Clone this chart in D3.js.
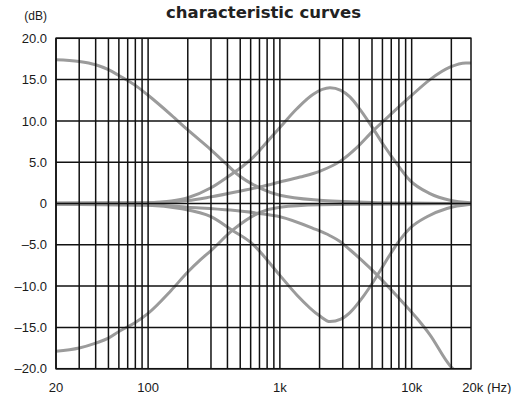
<!DOCTYPE html>
<html>
<head>
<meta charset="utf-8">
<script src="https://cdn.jsdelivr.net/npm/d3@7"></script>
<style>
  html, body { margin: 0; padding: 0; background: #fff; }
  svg { display: block; }
</style>
</head>
<body>
<svg id="chart" width="519" height="394"></svg>
<script>
// ---- data ----
const titleText = "characteristic curves";
const yUnitLabel = "(dB)";
const yTicks = [20, 15, 10, 5, 0, -5, -10, -15, -20];
const yTickLabels = ["20.0", "15.0", "10.0", "5.0", "0", "–5.0", "–10.0", "–15.0", "–20.0"];
const xTickValues = [20, 100, 1000, 10000];
const xTickLabels = ["20", "100", "1k", "10k"];
const xLastLabelValue = 20000;
const xLastLabel = "20k (Hz)";
const xGridValues = [20, 30, 40, 50, 60, 70, 80, 90,
  100, 200, 300, 400, 500, 600, 700, 800, 900,
  1000, 2000, 3000, 4000, 5000, 6000, 7000, 8000, 9000,
  10000, 20000];

// [frequency Hz, gain dB]
const lowShelfBoost = [[20,17.4],[30,17.2],[40,16.8],[50,16.2],[60,15.5],[80,14.3],[100,13.1],[150,10.7],[200,8.9],[300,6.5],[385,4.9],[470,3.6],[700,1.9],[1000,1.0],[2000,0.4],[3000,0.25],[5000,0.12],[10000,0.05],[28200,0]];
const lowShelfCut = [[20,-17.9],[30,-17.5],[40,-16.9],[50,-16.3],[60,-15.5],[80,-14.4],[100,-13.3],[150,-10.5],[200,-8.3],[250,-6.8],[300,-5.7],[440,-3.2],[700,-1.1],[1000,-0.45],[2000,-0.15],[5000,-0.08],[28200,0]];
const peakBoost = [[20,0.05],[100,0.1],[150,0.3],[200,0.7],[300,1.9],[400,3.2],[500,4.3],[600,5.3],[745,6.9],[1000,9.2],[1350,11.5],[1780,13.2],[2400,14.0],[2900,13.7],[3400,12.9],[4050,11.4],[5085,9.1],[6055,7.2],[7730,4.8],[9700,2.8],[13770,1.2],[19500,0.4],[28200,0.1]];
const peakCut = [[20,-0.1],[100,-0.2],[175,-0.6],[300,-1.6],[440,-3.3],[600,-4.7],[1000,-8.7],[1350,-11.1],[2000,-13.6],[2400,-14.3],[2900,-14.0],[3400,-13.2],[4270,-11.3],[5100,-9.5],[5740,-8.2],[6840,-6.2],[8150,-4.4],[9700,-3.0],[13060,-1.6],[18500,-0.6],[28200,-0.1]];
const highShelfBoost = [[20,0.02],[100,0.1],[200,0.35],[300,0.8],[500,1.5],[700,2.0],[1000,2.6],[1420,3.2],[2000,3.9],[2860,5.1],[3850,6.8],[5090,8.8],[6840,10.7],[9700,12.9],[13770,15.0],[19500,16.5],[25800,17.0],[28200,17.0]];
const highShelfCut = [[20,-0.1],[100,-0.15],[200,-0.45],[420,-0.8],[700,-1.2],[1000,-1.6],[1780,-3.0],[2400,-3.9],[2860,-4.6],[3400,-5.6],[4820,-7.8],[5740,-9.0],[7730,-11.2],[10960,-13.9],[13770,-15.9],[19500,-19.6],[20600,-20.0]];
const series = [lowShelfBoost, lowShelfCut, peakBoost, peakCut, highShelfBoost, highShelfCut];

// ---- layout ----
const svg = d3.select("#chart");
const plotL = 56, plotR = 471, plotT = 38.3, plotB = 368.7;

const x = d3.scaleLog().domain([20, 28200]).range([plotL, plotR]);
const y = d3.scaleLinear().domain([-20, 20]).range([plotB, plotT]);

svg.append("defs").append("clipPath").attr("id", "plot")
  .append("rect").attr("x", plotL).attr("y", plotT).attr("width", plotR - plotL).attr("height", plotB - plotT);

// curves (under grid)
const line = d3.line()
  .x(d => x(d[0]))
  .y(d => y(d[1]))
  .curve(d3.curveMonotoneX);

svg.append("g").attr("clip-path", "url(#plot)")
  .selectAll("path").data(series).join("path")
  .attr("d", line)
  .attr("fill", "none")
  .attr("stroke", "#9b9b9b")
  .attr("stroke-width", 3)
  .attr("stroke-linecap", "round");

// grid
const grid = svg.append("g").attr("stroke", "#111").attr("stroke-width", 1.5);
grid.selectAll("line.v").data(xGridValues).join("line")
  .attr("class", "v")
  .attr("x1", d => x(d)).attr("x2", d => x(d))
  .attr("y1", plotT).attr("y2", plotB);
grid.selectAll("line.h").data(yTicks).join("line")
  .attr("class", "h")
  .attr("x1", plotL).attr("x2", plotR)
  .attr("y1", d => y(d)).attr("y2", d => y(d));
grid.append("rect")
  .attr("x", plotL).attr("y", plotT).attr("width", plotR - plotL).attr("height", plotB - plotT)
  .attr("fill", "none");

// y labels
const labelFont = "'Liberation Sans', Arial, sans-serif";
svg.append("g").selectAll("text").data(yTicks).join("text")
  .attr("x", 47)
  .attr("y", d => y(d))
  .attr("dy", "0.36em")
  .attr("text-anchor", "end")
  .attr("font-family", labelFont)
  .attr("font-size", 13)
  .attr("fill", "#1a1a1a")
  .text((d, i) => yTickLabels[i]);

svg.append("text")
  .attr("x", 47).attr("y", 20)
  .attr("text-anchor", "end")
  .attr("font-family", labelFont)
  .attr("font-size", 12)
  .attr("fill", "#1a1a1a")
  .text(yUnitLabel);

// x labels
svg.append("g").selectAll("text").data(xTickValues).join("text")
  .attr("x", d => x(d))
  .attr("y", 392)
  .attr("text-anchor", "middle")
  .attr("font-family", labelFont)
  .attr("font-size", 13)
  .attr("fill", "#1a1a1a")
  .text((d, i) => xTickLabels[i]);

svg.append("text")
  .attr("x", x(xLastLabelValue) + 11)
  .attr("y", 392)
  .attr("text-anchor", "start")
  .attr("font-family", labelFont)
  .attr("font-size", 13)
  .attr("fill", "#1a1a1a")
  .text(xLastLabel);

// title
svg.append("text")
  .attr("x", 263.5).attr("y", 18.3)
  .attr("text-anchor", "middle")
  .attr("font-family", "'DejaVu Sans', sans-serif")
  .attr("font-weight", "bold")
  .attr("font-size", 16.5)
  .attr("fill", "#222")
  .text(titleText);
</script>
</body>
</html>
